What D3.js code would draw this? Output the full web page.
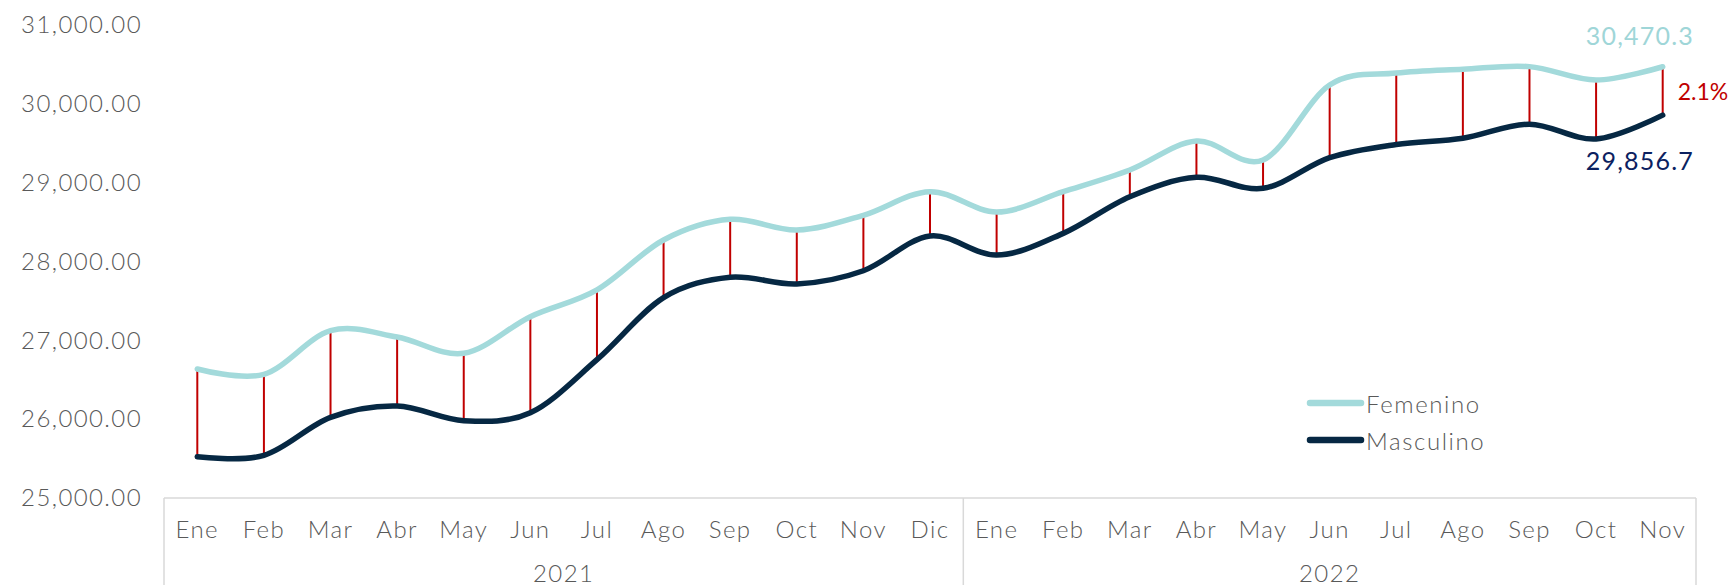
<!DOCTYPE html>
<html>
<head>
<meta charset="utf-8">
<script src="https://cdn.jsdelivr.net/npm/d3@7"></script>
<style>
  body { margin: 0; background: #fff; }
  svg text { font-family: Lato, "Open Sans", sans-serif; font-weight: 300; }
</style>
</head>
<body>
<div id="chart"></div>
<script>
// ===============================
// DATA
// ===============================
const months = ["Ene", "Feb", "Mar", "Abr", "May", "Jun", "Jul", "Ago", "Sep", "Oct", "Nov", "Dic",
                "Ene", "Feb", "Mar", "Abr", "May", "Jun", "Jul", "Ago", "Sep", "Oct", "Nov"];
const yearLabels = ["2021", "2022"];
const yearCounts = [12, 11];

const femenino = [26636, 26569, 27122, 27042, 26835, 27300, 27640, 28273, 28535, 28400, 28586, 28886,
                  28628, 28886, 29161, 29529, 29288, 30239, 30390, 30439, 30472, 30302, 30470.3];
const masculino = [25524, 25541, 26023, 26167, 25981, 26082, 26755, 27541, 27800, 27715, 27883, 28323,
                   28081, 28357, 28822, 29068, 28928, 29317, 29485, 29563, 29742, 29554, 29856.7];

const yTicks = [25000, 26000, 27000, 28000, 29000, 30000, 31000];
const seriesNames = ["Femenino", "Masculino"];

// ===============================
// CHART
// ===============================
const width = 1729;
const height = 585;
const colors = { Femenino: "#a3dadb", Masculino: "#062843" };

const svg = d3.select("#chart")
    .append("svg")
    .attr("width", width)
    .attr("height", height);

const x = d3.scaleBand()
    .domain(d3.range(months.length))
    .range([164, 1696]);

const y = d3.scaleLinear()
    .domain([25000, 31000])
    .range([498, 25]);

const cx = i => x(i) + x.bandwidth() / 2;

// y axis (labels only)
const yAxis = svg.append("g")
    .attr("transform", "translate(142,0)")
    .call(d3.axisLeft(y).tickValues(yTicks).tickFormat(d3.format(",.2f")).tickSize(0).tickPadding(0));
yAxis.select(".domain").remove();
yAxis.selectAll("text")
    .attr("fill", "#595959")
    .style("font-size", "24px")
    .style("letter-spacing", "1.4px");

// category axis box
const boxColor = "#d9d9d9";
svg.append("line")
    .attr("x1", x.range()[0]).attr("x2", x.range()[1])
    .attr("y1", y(25000)).attr("y2", y(25000))
    .attr("stroke", boxColor).attr("stroke-width", 1.5);

let start = 0;
const bounds = [x(0)];
yearCounts.forEach((n, k) => {
    const x0 = x(start);
    const x1 = start + n < months.length ? x(start + n) : x.range()[1];
    bounds.push(x1);
    svg.append("text")
        .attr("x", (x0 + x1) / 2)
        .attr("y", 572)
        .attr("text-anchor", "middle")
        .attr("dominant-baseline", "central")
        .attr("fill", "#595959")
        .style("font-size", "24px")
        .style("letter-spacing", "1.4px")
        .text(yearLabels[k]);
    start += n;
});
bounds.forEach(bx => {
    svg.append("line")
        .attr("x1", bx).attr("x2", bx)
        .attr("y1", y(25000)).attr("y2", height)
        .attr("stroke", boxColor).attr("stroke-width", 1.5);
});

const xAxis = svg.append("g")
    .attr("transform", "translate(0,528)")
    .call(d3.axisBottom(x).tickFormat(i => months[i]).tickSize(0).tickPadding(0));
xAxis.select(".domain").remove();
xAxis.selectAll("text")
    .attr("fill", "#595959")
    .attr("y", 0)
    .attr("dy", null)
    .attr("dominant-baseline", "central")
    .style("font-size", "24px")
    .style("letter-spacing", "1.4px");

// drop lines between the two series
svg.append("g")
    .selectAll("line")
    .data(d3.range(months.length))
    .enter()
    .append("line")
    .attr("x1", cx).attr("x2", cx)
    .attr("y1", i => y(femenino[i]))
    .attr("y2", i => y(masculino[i]))
    .attr("stroke", "#c00000")
    .attr("stroke-width", 2);

// smooth lines
const line = d3.line()
    .x((d, i) => cx(i))
    .y(d => y(d))
    .curve(d3.curveCardinal.tension(0));

[["Femenino", femenino], ["Masculino", masculino]].forEach(([name, values]) => {
    svg.append("path")
        .datum(values)
        .attr("d", line)
        .attr("fill", "none")
        .attr("stroke", colors[name])
        .attr("stroke-width", 5.5)
        .attr("stroke-linecap", "round");
});

// end labels
const last = months.length - 1;
svg.append("text")
    .attr("x", 1694).attr("y", y(femenino[last]) - 32)
    .attr("text-anchor", "end")
    .attr("dominant-baseline", "central")
    .attr("fill", "#9fd6d8")
    .style("font-size", "25px")
    .style("font-weight", 400)
    .style("letter-spacing", "1.2px")
    .text(d3.format(",.1f")(femenino[last]));

svg.append("text")
    .attr("x", 1694).attr("y", y(masculino[last]) + 45)
    .attr("text-anchor", "end")
    .attr("dominant-baseline", "central")
    .attr("fill", "#0b2160")
    .style("font-size", "25px")
    .style("font-weight", 400)
    .style("letter-spacing", "1.2px")
    .text(d3.format(",.1f")(masculino[last]));

const gap = (femenino[last] - masculino[last]) / masculino[last];
svg.append("text")
    .attr("x", cx(last) + 15)
    .attr("y", (y(femenino[last]) + y(masculino[last])) / 2)
    .attr("dominant-baseline", "central")
    .attr("fill", "#c00000")
    .style("font-size", "23px")
    .style("font-weight", 400)
    .text(d3.format(".1%")(gap));

// legend
const legend = svg.append("g").attr("transform", "translate(1307,403)");
seriesNames.forEach((name, k) => {
    const g = legend.append("g").attr("transform", `translate(0,${k * 37})`);
    g.append("line")
        .attr("x1", 3).attr("x2", 54)
        .attr("stroke", colors[name])
        .attr("stroke-width", 6.5)
        .attr("stroke-linecap", "round");
    g.append("text")
        .attr("x", 59)
        .attr("dominant-baseline", "central")
        .attr("fill", "#595959")
        .style("font-size", "24px")
        .style("letter-spacing", "1.6px")
        .text(name);
});
</script>
</body>
</html>
